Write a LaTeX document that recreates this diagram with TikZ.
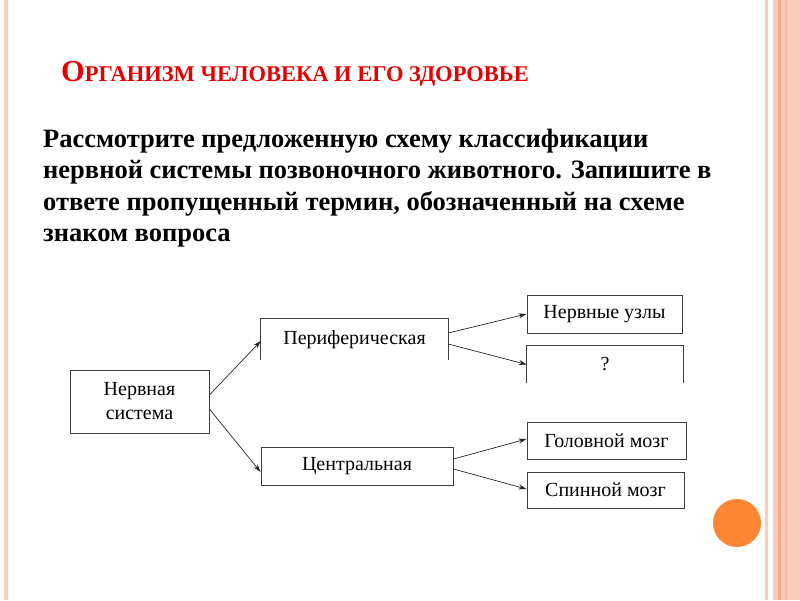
\documentclass[tikz,border=0pt]{standalone}
\usepackage{fontspec}
\setmainfont{Liberation Serif}
\usetikzlibrary{arrows.meta}
\definecolor{titlered}{RGB}{232,0,0}
\definecolor{stripe}{RGB}{252,204,188}
\definecolor{stripedark}{RGB}{244,172,140}
\definecolor{dotcol}{RGB}{253,134,52}
\definecolor{boxline}{RGB}{60,60,60}
\begin{document}
\begin{tikzpicture}[x=1pt,y=-1pt,
  box/.style={draw=boxline, line width=0.9pt, inner sep=0pt, align=center,
    font=\fontsize{20}{24}\selectfont},
  openbox/.style={inner sep=0pt, align=center, font=\fontsize{20}{24}\selectfont},
  arr/.style={draw=black!85, line width=0.7pt, -{Stealth[length=8pt,width=5pt]}},
  bodyline/.style={anchor=base west, inner sep=0pt, font=\fontsize{26.5}{31}\selectfont\bfseries}
]
\useasboundingbox (0,0) rectangle (800,600);
\fill[white] (0,0) rectangle (800,600);
% side stripes
\fill[stripe] (3.5,0) rectangle (8,600);
\fill[stripe] (765,0) rectangle (768,600);
\fill[stripe] (773,0) rectangle (800,600);
\fill[stripedark] (778,0) rectangle (781,600);
\fill[stripedark!60!stripe] (785,0) rectangle (787,600);
\fill[dotcol] (737,523) circle (24);
% title
\node[anchor=base west, inner sep=0pt, text=titlered, font=\bfseries] (title) at (61,81)
  {{\fontsize{30.5}{32}\selectfont О}{\fontsize{22.5}{24}\selectfont РГАНИЗМ ЧЕЛОВЕКА И ЕГО ЗДОРОВЬЕ}};
% body text
\node[bodyline] (l1) at (43,147) {Рассмотрите предложенную схему классификации};
\node[bodyline] (l2) at (43,178.5) {нервной системы позвоночного животного. Запишите в};
\node[bodyline] (l3) at (43,210) {ответе пропущенный термин, обозначенный на схеме};
\node[bodyline] (l4) at (43,241.5) {знаком вопроса};
% boxes
\node[box, minimum width=139pt, minimum height=63pt] (ns) at (139.5,401.5) {Нервная\\система};
\node[openbox, minimum width=187pt, minimum height=41pt] (per) at (354.5,339.5) {Периферическая};
\draw[boxline, line width=0.9pt] (per.south west) -- (per.north west) -- (per.north east) -- (per.south east);
\node[box, minimum width=192pt, minimum height=38pt] (cen) at (357,466) {Центральная};
\node[box, minimum width=155pt, minimum height=38pt] (uz) at (604.5,314) {Нервные узлы};
\node[openbox, minimum width=156pt, minimum height=37pt] (q) at (605,364.5) {?};
\draw[boxline, line width=0.9pt] (q.south west) -- (q.north west) -- (q.north east) -- (q.south east);
\node[box, minimum width=159pt, minimum height=37pt] (gol) at (606.5,440.5) {Головной мозг};
\node[box, minimum width=157pt, minimum height=36pt] (sp) at (605.5,490) {Спинной мозг};
% arrows
\draw[arr] ([yshift=6.5pt]ns.east) -- ([yshift=-1.5pt]per.west);
\draw[arr] ([yshift=-7.5pt]ns.east) -- ([yshift=-6pt]cen.west);
\draw[arr] ([yshift=6.5pt]per.east) -- (uz.west);
\draw[arr] ([yshift=-4.5pt]per.east) -- (q.west);
\draw[arr] ([yshift=7pt]cen.east) -- ([yshift=1.5pt]gol.west);
\draw[arr] ([yshift=-3pt]cen.east) -- ([yshift=1pt]sp.west);
\end{tikzpicture}
\end{document}
